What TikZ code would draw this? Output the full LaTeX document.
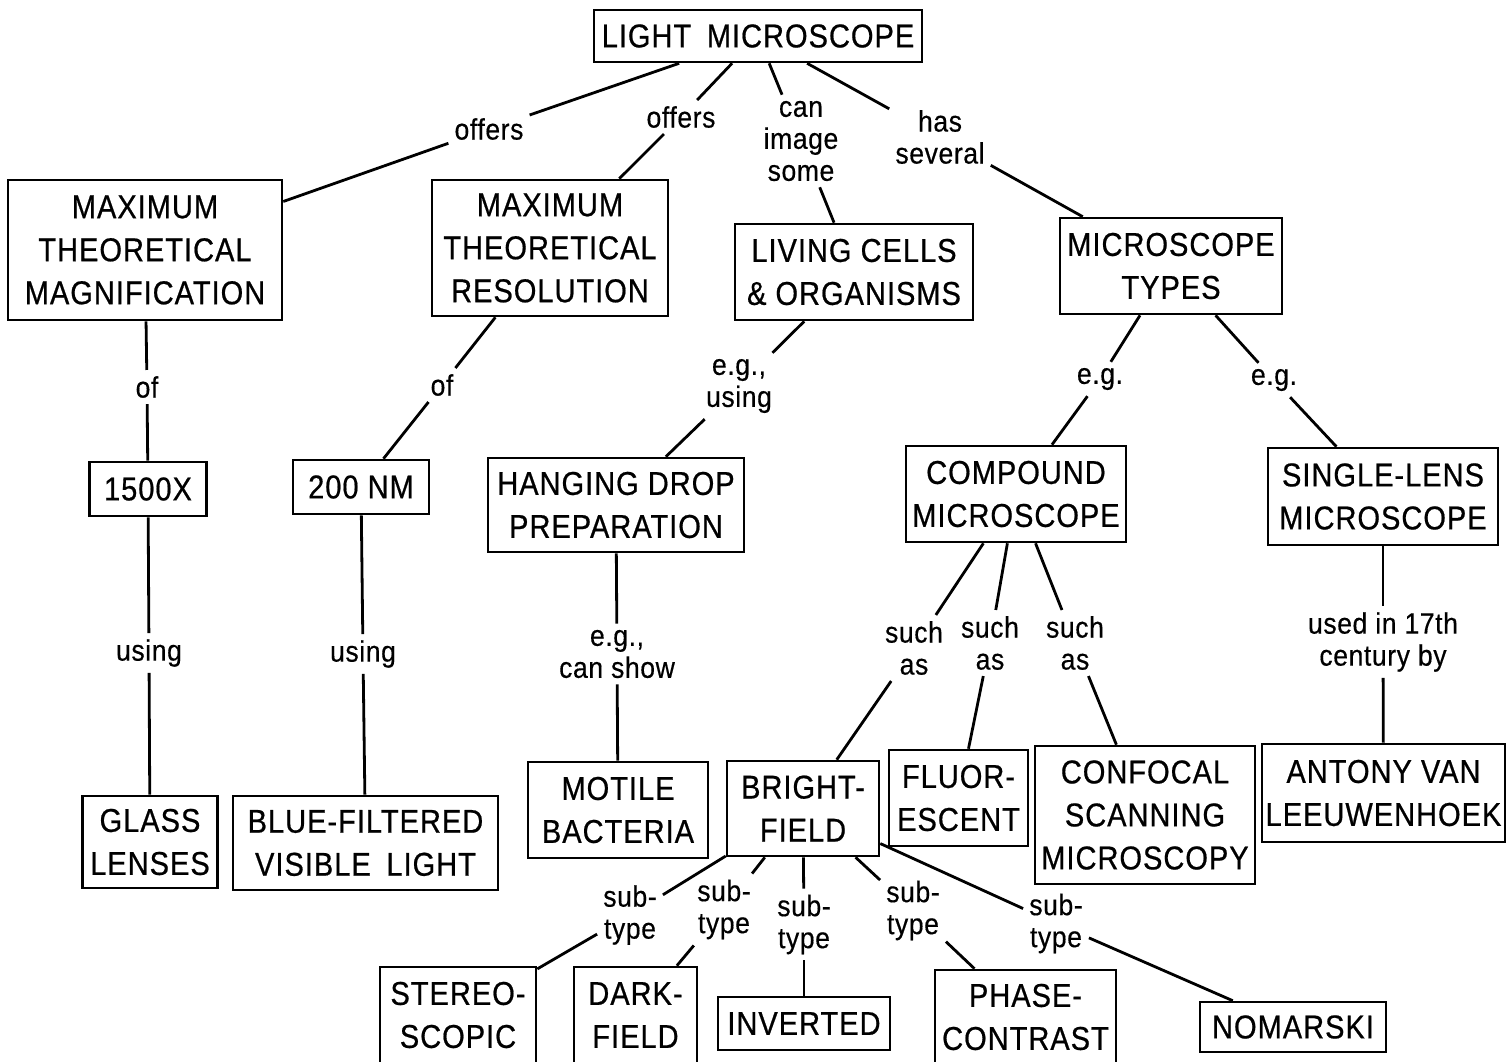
\documentclass[tikz,border=0pt]{standalone}
\usepackage{fontspec}
\setmainfont{Liberation Sans}
\newfontfamily\boxfont[FakeStretch=0.88,FakeBold=0.6,LetterSpace=3]{Liberation Sans}
\newfontfamily\labfont[FakeStretch=0.9,FakeBold=0.4,LetterSpace=2]{Liberation Sans}
\begin{document}
\begin{tikzpicture}[x=1pt,y=-1pt,
  box/.style={draw,line width=2.6pt,inner sep=0pt,align=center,
    font=\boxfont\fontsize{33}{43}\selectfont},
  bx/.style 2 args={box,minimum width=#1pt,minimum height=#2pt},
  lab/.style={inner sep=6pt,align=center,font=\labfont\fontsize{29.5}{32}\selectfont},
  link/.style={line width=2.8pt}]
\useasboundingbox (0,0) rectangle (1507,1061);

% concept boxes
\node[bx={328}{52}] (light) at (758,36) {LIGHT\hspace{0.2em} MICROSCOPE};
\node[bx={274}{140}] (mag) at (145,250) {MAXIMUM\\THEORETICAL\\MAGNIFICATION};
\node[bx={236}{136}] (res) at (550,248) {MAXIMUM\\THEORETICAL\\RESOLUTION};
\node[bx={238}{96}] (living) at (854,272) {LIVING CELLS\\\& ORGANISMS};
\node[bx={222}{96}] (types) at (1171,266) {MICROSCOPE\\TYPES};
\node[bx={117}{54}] (x1500) at (148,489) {1500X};
\node[bx={136}{54}] (nm200) at (361,487) {200 NM};
\node[bx={256}{94}] (hanging) at (616,505) {HANGING DROP\\PREPARATION};
\node[bx={220}{96}] (compound) at (1016,494) {COMPOUND\\MICROSCOPE};
\node[bx={230}{97}] (single) at (1383,496.5) {SINGLE-LENS\\MICROSCOPE};
\node[bx={135}{92}] (glass) at (150,842) {GLASS\\LENSES};
\node[bx={265}{94}] (blue) at (365.5,843) {BLUE-FILTERED\\VISIBLE\hspace{0.2em} LIGHT};
\node[bx={180}{96}] (motile) at (618,810) {MOTILE\\BACTERIA};
\node[bx={152}{95}] (bright) at (803,808.5) {BRIGHT-\\FIELD};
\node[bx={139}{96}] (fluor) at (958.5,798) {FLUOR-\\ESCENT};
\node[bx={220}{138}] (confocal) at (1145,815) {CONFOCAL\\SCANNING\\MICROSCOPY};
\node[bx={243}{98}] (antony) at (1383.5,793) {ANTONY VAN\\LEEUWENHOEK};
\node[bx={156}{96}] (stereo) at (458,1015) {STEREO-\\SCOPIC};
\node[bx={123}{96}] (dark) at (635.5,1015) {DARK-\\FIELD};
\node[bx={172}{53}] (inverted) at (804,1023.5) {INVERTED};
\node[bx={181}{94}] (phase) at (1025.5,1017) {PHASE-\\CONTRAST};
\node[bx={186}{50}] (nomarski) at (1293,1027) {NOMARSKI};

% linking phrases
\node[lab] (offA) at (489,129) {offers};
\node[lab] (offB) at (681,117) {offers};
\node[lab] (canimg) at (801,141) {can\\image\\some};
\node[lab] (hassev) at (940,137) {has\\several};
\node[lab] (ofA) at (147,387) {of};
\node[lab] (ofB) at (442,385) {of};
\node[lab] (egusing) at (739,386) {e.g.,\\using};
\node[lab] (egA) at (1100,379) {e.g.};
\node[lab] (egB) at (1274,380) {e.g.};
\node[lab] (usingA) at (149,653) {using};
\node[lab] (usingB) at (363,654) {using};
\node[lab] (egshow) at (617,654) {e.g.,\\can show};
\node[lab] (suchA) at (914,648) {such\\as};
\node[lab] (suchB) at (990,643) {such\\as};
\node[lab] (suchC) at (1075,643) {such\\as};
\node[lab] (used) at (1383,642) {used in 17th\\century by};
\node[lab] (subA) at (630,915) {sub-\\type};
\node[lab] (subB) at (724,909.5) {sub-\\type};
\node[lab] (subC) at (804,924.5) {sub-\\type};
\node[lab] (subD) at (913,910.5) {sub-\\type};
\node[lab] (subE) at (1056,923.5) {sub-\\type};

% connectors
\foreach \a/\l/\b in {light/offA/mag, light/offB/res, light/canimg/living,
    light/hassev/types, mag/ofA/x1500, res/ofB/nm200, living/egusing/hanging,
    types/egA/compound, types/egB/single, x1500/usingA/glass,
    nm200/usingB/blue, hanging/egshow/motile, compound/suchA/bright,
    compound/suchB/fluor, compound/suchC/confocal, single/used/antony,
    bright/subA/stereo, bright/subB/dark, bright/subC/inverted,
    bright/subD/phase, bright/subE/nomarski}
  {\draw[link] (\a) -- (\l); \draw[link] (\l) -- (\b);}
\end{tikzpicture}
\end{document}
